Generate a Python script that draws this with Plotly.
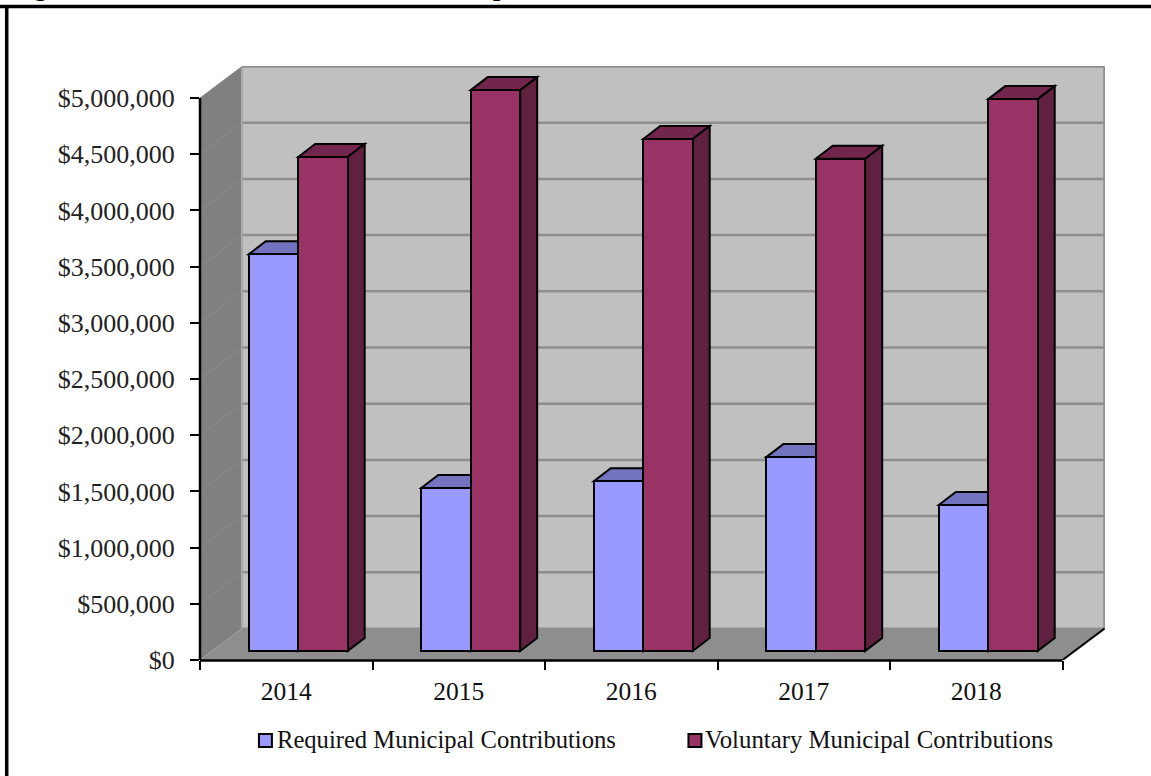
import plotly.graph_objects as go

years = ["2014", "2015", "2016", "2017", "2018"]
required = [3530000, 1450000, 1510000, 1725000, 1300000]
voluntary = [4395000, 4990000, 4555000, 4380000, 4910000]
y_ticks = [0, 500000, 1000000, 1500000, 2000000, 2500000, 3000000, 3500000, 4000000, 4500000, 5000000]
y_labels = ["$0", "$500,000", "$1,000,000", "$1,500,000", "$2,000,000", "$2,500,000",
            "$3,000,000", "$3,500,000", "$4,000,000", "$4,500,000", "$5,000,000"]
series_names = ["Required Municipal Contributions", "Voluntary Municipal Contributions"]
clipped_title_glyphs = ["g", "p"]

W, H = 1151, 776
L, R, T, B = 199.5, 1105.5, 66.0, 660.0     # plot box in px
FRONT_R = 1063.0
Y5 = 98.0
PX_X = (FRONT_R - L) / 5.0                  # px per category
PX_Y = (B - Y5) / 5000000.0                 # px per dollar
DX_W, DY_W = 42.0 / PX_X, 31.5 / PX_Y       # depth of box
DX_B, DY_B = 17.0 / PX_X, 13.0 / PX_Y       # depth of bars
BASE_X, BASE_Y = 12.0 / PX_X, 9.0 / PX_Y    # bars stand this far into the box
BAR_W = 49.5 / PX_X

xmax = (R - L) / PX_X
ymax = (B - T) / PX_Y
cats = list(range(len(years)))
centers = [i + 0.5 for i in cats]

COL_REQ, COL_REQ_TOP, COL_REQ_SIDE = "#9999ff", "#7373bf", "#4d4d80"
COL_VOL, COL_VOL_TOP, COL_VOL_SIDE = "#993366", "#73264d", "#602040"
WALL, SIDE, FLOOR, GRID = "#c0c0c0", "#808080", "#8e8e8e", "#8e8e8e"

def px(x):
    return (x - L) / (R - L)
def py(y):
    return (B - y) / (B - T)

shapes = []
def poly(pts, fill, line=None, width=0):
    path = "M " + " L ".join(f"{x},{y}" for x, y in pts) + " Z"
    shapes.append(dict(type="path", path=path, xref="x", yref="y", fillcolor=fill, layer="below",
                       line=dict(color=line or fill, width=width)))
def seg(x0, y0, x1, y1, color, width):
    shapes.append(dict(type="line", x0=x0, y0=y0, x1=x1, y1=y1, xref="x", yref="y", layer="below",
                       line=dict(color=color, width=width)))

# box
top = y_ticks[-1]
poly([(DX_W, DY_W), (5 + DX_W, DY_W), (5 + DX_W, top + DY_W), (DX_W, top + DY_W)], WALL)
poly([(0, 0), (DX_W, DY_W), (DX_W, top + DY_W), (0, top)], SIDE)
poly([(0, 0), (5, 0), (5 + DX_W, DY_W), (DX_W, DY_W)], FLOOR)
for v in y_ticks[1:]:
    seg(DX_W, v + DY_W, 5 + DX_W, v + DY_W, GRID, 2.5)
    seg(0, v, DX_W, v + DY_W, "#8c8c8c", 1)
seg(5 + DX_W, DY_W, 5 + DX_W, top + DY_W, GRID, 2.5)
seg(DX_W, DY_W, 5 + DX_W, DY_W, GRID, 2)
seg(DX_W, DY_W, DX_W, top + DY_W, "#a8a8a8", 2)
seg(5, 0, 5 + DX_W, DY_W, "#000000", 2)

# bar depth faces, computed from the values
def faces(x_left, v, c_top, c_side):
    b = BASE_Y
    xr = x_left + BAR_W
    poly([(x_left, b + v), (xr, b + v), (xr + DX_B, b + v + DY_B), (x_left + DX_B, b + v + DY_B)], c_top, "#000000", 2)
    poly([(xr, b), (xr + DX_B, b + DY_B), (xr + DX_B, b + v + DY_B), (xr, b + v)], c_side, "#000000", 2)

req_x, vol_x = [], []
for i in cats:
    left = centers[i] + BASE_X - BAR_W
    req_x.append(left + BAR_W / 2)
    vol_x.append(left + BAR_W * 1.5)
    faces(left, required[i], COL_REQ_TOP, COL_REQ_SIDE)
    faces(left + BAR_W, voluntary[i], COL_VOL_TOP, COL_VOL_SIDE)

fig = go.Figure()
fig.add_bar(x=req_x, y=required, base=[BASE_Y] * 5, width=BAR_W, name=series_names[0],
            marker=dict(color=COL_REQ, line=dict(color="#000000", width=2)))
fig.add_bar(x=vol_x, y=voluntary, base=[BASE_Y] * 5, width=BAR_W, name=series_names[1],
            marker=dict(color=COL_VOL, line=dict(color="#000000", width=2)))

# frame
shapes.append(dict(type="line", xref="paper", yref="paper", x0=px(-5), x1=px(W + 5), y0=py(6.5), y1=py(6.5),
                   line=dict(color="#000000", width=3.5)))
shapes.append(dict(type="line", xref="paper", yref="paper", x0=px(6), x1=px(6), y0=py(5), y1=py(H + 5),
                   line=dict(color="#000000", width=3.5)))
# front axis lines (paper refs, so that they are not clipped at the plot edge)
shapes.append(dict(type="line", xref="paper", yref="paper", x0=0, x1=px(FRONT_R), y0=py(660.5), y1=py(660.5),
                   line=dict(color="#000000", width=2.5)))
shapes.append(dict(type="line", xref="paper", yref="paper", x0=0, x1=0, y0=0, y1=py(Y5),
                   line=dict(color="#000000", width=2.5)))

# legend keys
annotations = []
for sx, tx, size, col, name in [(258.5, 275, 24.6, COL_REQ, series_names[0]), (688.5, 703, 24.8, COL_VOL, series_names[1])]:
    shapes.append(dict(type="rect", xref="paper", yref="paper", x0=px(sx), x1=px(sx + 13), y0=py(734), y1=py(747),
                       fillcolor=col, line=dict(color="#000000", width=2)))
    annotations.append(dict(xref="paper", yref="paper", x=px(tx), y=py(739), xanchor="left", yanchor="middle",
                            text=name, showarrow=False, font=dict(size=size, color="#111111")))
# the chart title is cut off by the top of the picture: only two descenders show
for gx, glyph in zip([40, 500], clipped_title_glyphs):
    annotations.append(dict(xref="paper", yref="paper", x=px(gx), y=py(4), xanchor="center", yanchor="bottom",
                            text=f"<b>{glyph}</b>", showarrow=False, font=dict(size=26, color="#000000")))

fig.update_layout(
    width=W, height=H, autosize=False,
    margin=dict(l=L, r=W - R, t=T, b=H - B, pad=0),
    paper_bgcolor="#ffffff", plot_bgcolor="rgba(0,0,0,0)",
    font=dict(family="Liberation Serif", color="#000000", size=26),
    barmode="overlay", showlegend=False, shapes=shapes, annotations=annotations, bargap=0,
    xaxis=dict(range=[0, xmax], tickmode="array", tickvals=centers, ticktext=years, showgrid=False, zeroline=False,
               showline=False, ticks="", tickfont=dict(size=25.5, color="#111111"), ticklabelstandoff=13,
               minor=dict(tickmode="array", tickvals=[0, 1, 2, 3, 4, 5], ticks="outside", ticklen=9, tickcolor="#000000", tickwidth=1.5)),
    yaxis=dict(range=[0, ymax], tickmode="array", tickvals=y_ticks, ticktext=y_labels, showgrid=False, zeroline=False,
               showline=False, ticks="outside", ticklen=9, tickcolor="#000000", tickwidth=2,
               tickfont=dict(size=26, color="#222222"), ticklabelstandoff=10),
)
fig.write_html("out.html", config={"displayModeBar": False}, post_script="document.body.style.margin='0';")
